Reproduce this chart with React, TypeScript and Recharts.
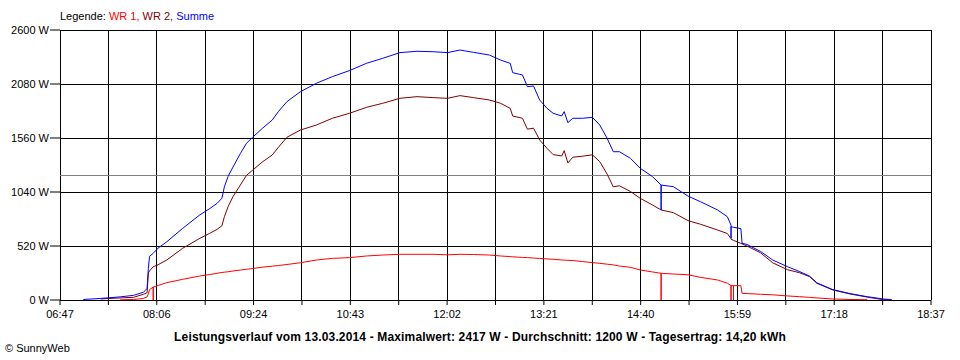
import { LineChart, Line, XAxis, YAxis, CartesianGrid, ReferenceLine } from 'recharts';

// Zeitachse: Beschriftung jede zweite Gitterlinie
const tickLabels = ['06:47', '08:06', '09:24', '10:43', '12:02', '13:21', '14:40', '15:59', '17:18', '18:37'];
const yTicks = [0, 520, 1040, 1560, 2080, 2600];
const average = 1200;

// Messpunkte, gleiche Zeit mehrfach = Einbruch
const times = [
  '07:06', '07:20', '07:36', '07:47', '07:55', '07:58', '07:59', '08:00', '08:03', '08:03',
  '08:03', '08:07', '08:14', '08:27', '08:41', '08:49', '08:55', '08:59', '09:01', '09:04',
  '09:08', '09:14', '09:19', '09:24', '09:32', '09:40', '09:45', '09:52', '10:03', '10:16',
  '10:29', '10:43', '10:57', '11:10', '11:24', '11:38', '11:51', '12:03', '12:13', '12:24',
  '12:37', '12:46', '12:54', '12:56', '13:04', '13:08', '13:13', '13:18', '13:24', '13:29',
  '13:36', '13:38', '13:41', '13:45', '13:53', '14:01', '14:07', '14:13', '14:18', '14:23',
  '14:32', '14:40', '14:50', '14:57', '14:57', '14:57', '15:07', '15:19', '15:29', '15:43',
  '15:51', '15:54', '15:54', '15:54', '15:56', '15:56', '15:56', '16:02', '16:03', '16:07',
  '16:18', '16:28', '16:40', '16:50', '16:58', '17:04', '17:17', '17:31', '17:45', '17:58',
  '18:05'
];

const wr1 = [
  null, null, 2, 5, 15, 30, 60, 100, 125, 0,
  125, 140, 167, 199, 231, 245, 257, 265, 268, 272,
  279, 288, 296, 303, 316, 326, 332, 342, 359, 385,
  401, 408, 424, 433, 440, 440, 440, 435, 440, 438,
  433, 424, 418, 416, 410, 408, 404, 400, 396, 392,
  385, 384, 382, 380, 370, 360, 353, 345, 338, 327,
  315, 289, 270, 257, 0, 257, 250, 243, 218, 193,
  161, 140, 0, 138, 138, 0, 138, 138, 64, 62,
  55, 50, 39, 32, 25, 20, 10, 5, 3, null,
  null
];

const wr2 = [
  null, 10, 20, 26, 55, 70, 260, 280, 320, 320,
  320, 340, 385, 498, 594, 642, 680, 715, 802, 898,
  995, 1107, 1200, 1250, 1330, 1396, 1470, 1567, 1637, 1685,
  1750, 1798, 1856, 1894, 1942, 1958, 1949, 1942, 1968, 1949,
  1926, 1895, 1846, 1772, 1750, 1645, 1655, 1541, 1460, 1400,
  1387, 1438, 1320, 1375, 1385, 1398, 1332, 1212, 1090, 1100,
  1045, 979, 915, 867, 867, 867, 841, 764, 730, 674,
  640, 590, 590, 585, 575, 575, 575, 545, 540, 520,
  455, 358, 292, 262, 225, 161, 96, 58, 28, 3,
  0
];

const summe = [
  5, 15, 30, 45, 75, 110, 300, 420, 450, 450,
  450, 500, 560, 690, 820, 880, 930, 980, 1090, 1190,
  1280, 1410, 1509, 1567, 1653, 1733, 1814, 1910, 2006, 2087,
  2151, 2209, 2280, 2327, 2382, 2395, 2391, 2382, 2407, 2385,
  2359, 2311, 2279, 2189, 2167, 2054, 2061, 1926, 1846, 1798,
  1772, 1814, 1708, 1750, 1750, 1759, 1685, 1557, 1428, 1428,
  1364, 1268, 1188, 1107, 867, 1107, 1091, 1000, 947, 867,
  802, 720, 594, 706, 700, 700, 700, 688, 546, 535,
  468, 385, 321, 273, 230, 165, 100, 62, 32, 10,
  3
];

const toMin = (s: string) => {
  const [h, m] = s.split(':').map(Number);
  return h * 60 + m;
};

const data = times.map((t, i) => ({ t: toMin(t), wr1: wr1[i], wr2: wr2[i], summe: summe[i] }));

const xStart = toMin(tickLabels[0]);
const xEnd = toMin(tickLabels[tickLabels.length - 1]);
const steps = (tickLabels.length - 1) * 2;
const xTicks = Array.from({ length: steps + 1 }, (_, k) => xStart + (k * (xEnd - xStart)) / steps);

const font = '"Liberation Sans", Arial, sans-serif';

export default function App() {
  return (
    <div style={{ position: 'absolute', left: 0, top: 0, width: 960, height: 360, background: '#fff', fontFamily: font }}>
      <div style={{ position: 'absolute', left: 60, top: 10, fontSize: 11, lineHeight: '13px', whiteSpace: 'nowrap' }}>
        <span style={{ color: '#000' }}>Legende: </span>
        <span style={{ color: '#ff0000' }}>WR 1, </span>
        <span style={{ color: '#800000' }}>WR 2, </span>
        <span style={{ color: '#0000ff' }}>Summe</span>
      </div>
      <LineChart width={960} height={360} data={data} margin={{ top: 30, right: 29, bottom: 0, left: 0 }}>
        <CartesianGrid stroke="#000" strokeWidth={1} shapeRendering="crispEdges" />
        <XAxis
          dataKey="t"
          type="number"
          domain={[xStart, xEnd]}
          ticks={xTicks}
          interval={0}
          tickFormatter={(v: number, i: number) => (i % 2 === 0 ? tickLabels[i / 2] : '')}
          axisLine={false}
          tickLine={{ stroke: '#000' }}
          tickSize={5}
          tickMargin={5}
          height={60}
          tick={{ fill: '#000', fontSize: 11, fontFamily: font }}
        />
        <YAxis
          type="number"
          domain={[0, 2600]}
          ticks={yTicks}
          interval={0}
          tickFormatter={(v: number) => `${v} W`}
          axisLine={false}
          tickLine={{ stroke: '#000' }}
          tickSize={10}
          tickMargin={1}
          width={60}
          tick={{ fill: '#000', fontSize: 11, fontFamily: font }}
        />
        <ReferenceLine y={average} stroke="#808080" strokeWidth={1} shapeRendering="crispEdges" />
        <Line dataKey="wr1" stroke="#ff0000" strokeWidth={1} dot={false} isAnimationActive={false} type="linear" />
        <Line dataKey="wr2" stroke="#800000" strokeWidth={1} dot={false} isAnimationActive={false} type="linear" />
        <Line dataKey="summe" stroke="#0000ff" strokeWidth={1} dot={false} isAnimationActive={false} type="linear" />
      </LineChart>
      <div style={{ position: 'absolute', left: 0, width: 960, top: 330, textAlign: 'center', fontSize: 12, letterSpacing: '0.15px', fontWeight: 'bold', lineHeight: '14px' }}>
        Leistungsverlauf vom 13.03.2014 - Maximalwert: 2417 W - Durchschnitt: 1200 W - Tagesertrag: 14,20 kWh
      </div>
      <div style={{ position: 'absolute', left: 5, top: 342, fontSize: 11, lineHeight: '13px' }}>© SunnyWeb</div>
    </div>
  );
}
